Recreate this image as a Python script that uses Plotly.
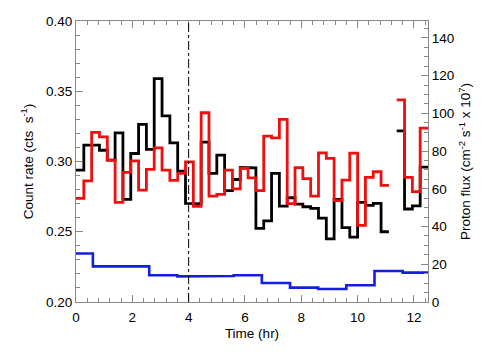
import numpy as np
import plotly.graph_objects as go

# Time bins: 1000 s each, 45 bins covering 0-12.5 hr
BIN_HR = 1000.0 / 3600.0
N_BINS = 45

black_rate = [0.2938, 0.3116, 0.3116, 0.3080, 0.3010, 0.3204, 0.2730, 0.3057, 0.3264, 0.3086,
              0.3590, 0.3325, 0.3133, 0.2931, 0.2702, 0.2700, 0.3138, 0.2915, 0.3045, 0.2792,
              0.2872, 0.2957, 0.2955, 0.2524, 0.2578, 0.2915, 0.2683, 0.2742, 0.2697, 0.2678,
              0.2666, 0.2597, 0.2450, 0.2730, 0.2530, 0.2462, 0.2709, 0.2688, 0.2702, 0.2500,
              None, 0.3218, 0.2662, 0.2684, 0.2960]

red_rate = [0.2737, 0.2862, 0.3207, 0.3175, 0.3010, 0.2709, 0.2922, 0.3005, 0.2796, 0.2944,
            0.3097, 0.2938, 0.2865, 0.2915, 0.2998, 0.2680, 0.3347, 0.2754, 0.2766, 0.2938,
            0.2805, 0.2952, 0.2884, 0.2792, 0.3180, 0.3168, 0.3300, 0.2700, 0.2957, 0.2878,
            0.2754, 0.3062, 0.3022, 0.2722, 0.2867, 0.3060, 0.2545, 0.2887, 0.2927, 0.2830,
            None, 0.3438, 0.2887, 0.2786, 0.3237]

proton_edges = [0.0, 0.6, 2.6, 3.6, 4.6, 5.6, 6.6, 7.6, 8.6, 9.6, 10.6, 11.6, 12.5]
proton_flux = [25.7, 18.9, 14.2, 13.6, 13.8, 14.2, 10.1, 7.6, 6.9, 8.9, 16.4, 15.6]

marker_time = 4.0

bin_edges = np.arange(N_BINS + 1) * BIN_HR


def step_xy(edges, vals):
    xs, ys = [], []
    for i, v in enumerate(vals):
        if v is None:
            xs.append(None)
            ys.append(None)
            continue
        xs += [edges[i], edges[i + 1]]
        ys += [v, v]
    return xs, ys


bx, by = step_xy(bin_edges, black_rate)
rx, ry = step_xy(bin_edges, red_rate)
px, py = step_xy(proton_edges, proton_flux)

fig = go.Figure()
fig.add_trace(go.Scatter(x=bx, y=by, mode="lines", line=dict(color="black", width=2.8),
                         connectgaps=False, showlegend=False))
fig.add_trace(go.Scatter(x=rx, y=ry, mode="lines", line=dict(color="rgb(240,15,15)", width=2.8),
                         connectgaps=False, showlegend=False))
fig.add_trace(go.Scatter(x=px, y=py, mode="lines", line=dict(color="rgb(20,30,225)", width=2.6),
                         yaxis="y2", showlegend=False))

fig.add_shape(type="line", x0=marker_time, x1=marker_time, y0=0, y1=1, xref="x", yref="paper",
              line=dict(color="black", width=1, dash="dashdot"))

axis_font = dict(family="Liberation Sans, Arial, Helvetica, sans-serif", size=13.5, color="black")
axcol = "#888888"

# page body has an 8px default margin: size the figure to fit the 504x360 window
fig.update_layout(
    width=488, height=344,
    margin=dict(l=68, r=68, t=13, b=50),
    paper_bgcolor="white", plot_bgcolor="white",
    font=axis_font,
    xaxis=dict(range=[0, 12.5], dtick=2, tick0=0, ticks="inside", ticklen=7, tickcolor=axcol,
               showline=True, linecolor=axcol, linewidth=1, mirror="ticks", showgrid=False,
               zeroline=False, tickfont=axis_font, automargin=False, ticklabelstandoff=3,
               minor=dict(dtick=0.4, ticks="inside", ticklen=4, tickcolor=axcol),
               title=dict(text="Time (hr)", font=axis_font, standoff=4)),
    yaxis=dict(range=[0.20, 0.40], dtick=0.05, tick0=0.2, tickformat=".2f", ticks="inside",
               ticklen=7, tickcolor=axcol, showline=True, linecolor=axcol, linewidth=1,
               showgrid=False, zeroline=False, tickfont=axis_font, automargin=False,
               minor=dict(dtick=0.01, ticks="inside", ticklen=4, tickcolor=axcol),
               title=dict(text="Count rate (cts  s<sup>-1</sup>)", font=axis_font, standoff=9)),
    yaxis2=dict(range=[0, 149], dtick=20, tick0=0, overlaying="y", side="right", ticks="inside",
                ticklen=7, tickcolor=axcol, showline=True, linecolor=axcol, linewidth=1,
                showgrid=False, zeroline=False, tickfont=axis_font, automargin=False,
                minor=dict(dtick=5, ticks="inside", ticklen=4, tickcolor=axcol),
                title=dict(text="Proton flux (cm<sup>-2</sup> s<sup>-1</sup> x 10<sup>7</sup>)",
                           font=axis_font, standoff=7)),
)

fig.write_html("out.html")
